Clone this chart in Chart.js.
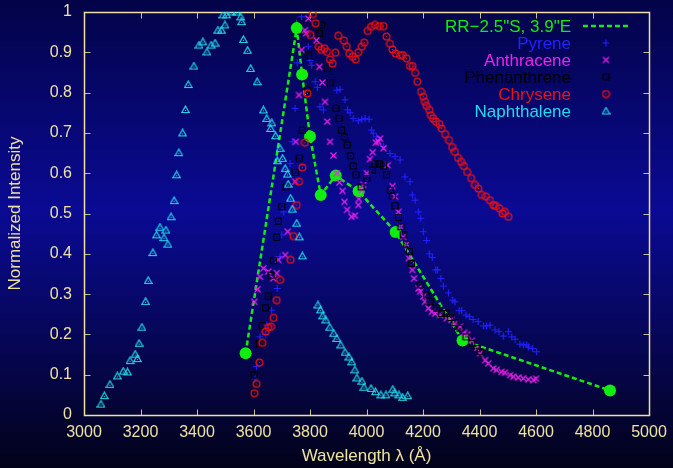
<!DOCTYPE html>
<html>
<head>
<meta charset="utf-8">
<script src="https://cdn.jsdelivr.net/npm/chart.js@4.4.1/dist/chart.umd.min.js"></script>
<style>
  html, body { margin: 0; padding: 0; background: #02022a; }
  canvas { display: block; }
</style>
</head>
<body>
<canvas id="spectra" width="673" height="468"></canvas>
<script>
// Normalized fluorescence spectra: [wavelength (Å), normalized intensity]
const observed = [
  [3572, 0.153], [3753, 0.960], [3772, 0.845], [3800, 0.691], [3838, 0.546],
  [3891, 0.594], [3972, 0.555], [4103, 0.454], [4340, 0.185], [4862, 0.061]
];

const pyrene = [
  [3605, 0.090], [3611, 0.120], [3623, 0.194], [3643, 0.199], [3647, 0.223],
  [3664, 0.260], [3684, 0.314], [3694, 0.393], [3700, 0.447], [3706, 0.504],
  [3729, 0.624], [3737, 0.678], [3747, 0.761], [3755, 0.874], [3770, 0.988],
  [3794, 0.914], [3800, 0.880], [3806, 0.868], [3818, 0.827], [3826, 0.813],
  [3835, 0.765], [3847, 0.757], [3895, 0.806], [3906, 0.808], [3924, 0.782],
  [3933, 0.757], [3942, 0.750], [3953, 0.736], [3971, 0.730], [3983, 0.733],
  [3995, 0.736], [4009, 0.734], [4018, 0.707], [4024, 0.699], [4036, 0.690],
  [4060, 0.666], [4083, 0.649], [4101, 0.641], [4119, 0.633], [4136, 0.591],
  [4154, 0.579], [4162, 0.546], [4172, 0.533], [4184, 0.504], [4192, 0.488],
  [4201, 0.455], [4213, 0.433], [4222, 0.400], [4233, 0.391], [4245, 0.360],
  [4251, 0.360], [4263, 0.339], [4272, 0.320], [4290, 0.303], [4305, 0.285],
  [4313, 0.281], [4328, 0.259], [4337, 0.259], [4352, 0.248], [4364, 0.244],
  [4377, 0.237], [4395, 0.232], [4414, 0.221], [4425, 0.221], [4437, 0.223],
  [4455, 0.211], [4469, 0.207], [4484, 0.196], [4502, 0.207], [4514, 0.194],
  [4526, 0.188], [4543, 0.176], [4555, 0.174], [4567, 0.174], [4573, 0.169],
  [4588, 0.165], [4602, 0.157]
];

const anthracene = [
  [3603, 0.281], [3614, 0.312], [3623, 0.343], [3635, 0.364], [3652, 0.356],
  [3670, 0.339], [3682, 0.352], [3688, 0.385], [3712, 0.397], [3721, 0.455],
  [3747, 0.579], [3750, 0.678], [3761, 0.794], [3770, 0.906], [3782, 0.955],
  [3786, 0.947], [3794, 0.984], [3823, 0.930], [3833, 0.864], [3844, 0.825],
  [3853, 0.777], [3861, 0.728], [3871, 0.678], [3883, 0.644], [3895, 0.600],
  [3904, 0.577], [3915, 0.556], [3922, 0.529], [3931, 0.509], [3947, 0.492],
  [3959, 0.495], [3971, 0.521], [3973, 0.536], [3983, 0.558], [3989, 0.571],
  [4001, 0.600], [4012, 0.635], [4022, 0.652], [4033, 0.676], [4042, 0.678],
  [4048, 0.686], [4060, 0.662], [4075, 0.620], [4092, 0.568], [4101, 0.542],
  [4113, 0.504], [4121, 0.467], [4130, 0.442], [4142, 0.424], [4150, 0.389],
  [4162, 0.360], [4168, 0.339], [4184, 0.314], [4190, 0.306], [4201, 0.294],
  [4207, 0.281], [4219, 0.265], [4231, 0.256], [4243, 0.252], [4260, 0.248],
  [4284, 0.240], [4301, 0.236], [4313, 0.227], [4331, 0.219], [4345, 0.204],
  [4357, 0.199], [4373, 0.184], [4390, 0.165], [4402, 0.153], [4420, 0.136],
  [4431, 0.128], [4449, 0.116], [4460, 0.112], [4478, 0.107], [4490, 0.105],
  [4508, 0.099], [4520, 0.095], [4537, 0.093], [4555, 0.091], [4573, 0.088],
  [4591, 0.087], [4600, 0.090]
];

const phenanthrene = [
  [3603, 0.099], [3621, 0.178], [3631, 0.222], [3643, 0.266], [3652, 0.295],
  [3662, 0.347], [3671, 0.383], [3682, 0.441], [3688, 0.481], [3700, 0.517],
  [3715, 0.566], [3748, 0.602], [3762, 0.637], [3773, 0.707], [3791, 0.806],
  [3795, 0.893], [3833, 0.947], [3841, 0.968], [3861, 0.860], [3871, 0.825],
  [3892, 0.761], [3903, 0.736], [3912, 0.707], [3922, 0.690], [3932, 0.670],
  [3943, 0.643], [3953, 0.618], [3963, 0.596], [3981, 0.566], [4001, 0.587],
  [4021, 0.608], [4030, 0.623], [4045, 0.623], [4060, 0.618], [4071, 0.596],
  [4085, 0.558], [4092, 0.543], [4101, 0.519], [4113, 0.490], [4122, 0.467],
  [4130, 0.447], [4142, 0.424], [4152, 0.405], [4159, 0.376], [4190, 0.323],
  [4213, 0.298], [4225, 0.281], [4249, 0.265], [4266, 0.252], [4282, 0.252],
  [4298, 0.242], [4313, 0.229], [4331, 0.215], [4352, 0.194], [4373, 0.178],
  [4390, 0.165], [4402, 0.157]
];

const chrysene = [
  [3603, 0.054], [3611, 0.077], [3621, 0.130], [3631, 0.179], [3643, 0.207],
  [3652, 0.218], [3662, 0.219], [3671, 0.241], [3682, 0.285], [3694, 0.335],
  [3731, 0.385], [3741, 0.444], [3753, 0.521], [3761, 0.579], [3773, 0.614],
  [3782, 0.676], [3791, 0.798], [3801, 0.943], [3810, 0.995], [3820, 0.972],
  [3831, 0.914], [3840, 0.906], [3851, 0.910], [3860, 0.901], [3871, 0.882],
  [3880, 0.872], [3890, 0.899], [3900, 0.941], [3920, 0.929], [3930, 0.914],
  [3939, 0.897], [3951, 0.889], [3962, 0.882], [3971, 0.900], [3983, 0.914],
  [3992, 0.924], [4004, 0.953], [4016, 0.963], [4030, 0.968], [4045, 0.965],
  [4060, 0.965], [4071, 0.939], [4083, 0.921], [4092, 0.907], [4103, 0.897],
  [4119, 0.893], [4128, 0.893], [4142, 0.885], [4154, 0.866], [4163, 0.866],
  [4172, 0.849], [4180, 0.827], [4193, 0.802], [4201, 0.790], [4207, 0.777],
  [4213, 0.767], [4222, 0.757], [4228, 0.744], [4236, 0.736], [4246, 0.728],
  [4258, 0.722], [4266, 0.711], [4278, 0.697], [4292, 0.682], [4303, 0.665],
  [4313, 0.653], [4324, 0.638], [4335, 0.628], [4345, 0.618], [4356, 0.603],
  [4370, 0.588], [4384, 0.571], [4396, 0.562], [4408, 0.546], [4423, 0.542],
  [4437, 0.533], [4449, 0.521], [4458, 0.519], [4470, 0.513], [4482, 0.500],
  [4490, 0.504], [4502, 0.492]
];

const naphthalene = [
  [3060, 0.027], [3072, 0.048], [3092, 0.076], [3118, 0.097], [3139, 0.109],
  [3154, 0.107], [3163, 0.135], [3181, 0.151], [3189, 0.140], [3195, 0.178],
  [3205, 0.218], [3218, 0.282], [3227, 0.334], [3244, 0.403], [3257, 0.447],
  [3269, 0.466], [3283, 0.440], [3290, 0.459], [3297, 0.424], [3308, 0.492],
  [3319, 0.532], [3328, 0.596], [3336, 0.651], [3349, 0.700], [3359, 0.758],
  [3369, 0.820], [3389, 0.866], [3407, 0.918], [3421, 0.926], [3435, 0.901],
  [3450, 0.918], [3464, 0.923], [3474, 0.955], [3487, 0.955], [3492, 0.993],
  [3499, 0.968], [3505, 0.993], [3523, 1.000], [3540, 1.000], [3555, 0.988],
  [3558, 0.976], [3564, 0.932], [3579, 0.905], [3590, 0.860], [3613, 0.827],
  [3635, 0.757], [3647, 0.736], [3661, 0.711], [3665, 0.725], [3678, 0.693],
  [3684, 0.631], [3694, 0.662], [3703, 0.637], [3712, 0.612], [3720, 0.598],
  [3723, 0.573], [3731, 0.538], [3737, 0.511], [3753, 0.476], [3762, 0.442],
  [3773, 0.395], [3828, 0.273], [3837, 0.261], [3845, 0.246], [3856, 0.236],
  [3870, 0.218], [3884, 0.203], [3895, 0.190], [3909, 0.174], [3924, 0.156],
  [3938, 0.144], [3948, 0.132], [3959, 0.112], [3966, 0.092], [3984, 0.084],
  [3991, 0.069], [4016, 0.066], [4032, 0.058], [4051, 0.050], [4069, 0.050],
  [4093, 0.064], [4100, 0.055], [4115, 0.050], [4128, 0.044], [4146, 0.048]
];

const wavelengthTicks = [3000, 3200, 3400, 3600, 3800, 4000, 4200, 4400, 4600, 4800, 5000];
const intensityTicks = [0, 0.1, 0.2, 0.3, 0.4, 0.5, 0.6, 0.7, 0.8, 0.9, 1];

const AXIS_COLOR = '#eee2a0';
const FONT = '"Liberation Sans", Arial, sans-serif';

// Small point glyphs in gnuplot style (most carry a centre dot)
function makeMarker(kind, color) {
  const size = 9, m = size / 2;
  const c = document.createElement('canvas');
  c.width = size; c.height = size;
  const g = c.getContext('2d');
  g.strokeStyle = color; g.fillStyle = color; g.lineWidth = 1.2;
  g.beginPath();
  if (kind === 'plus') {
    g.moveTo(1, m); g.lineTo(8, m);
    g.moveTo(m, 1); g.lineTo(m, 8);
    g.stroke();
  } else if (kind === 'cross') {
    g.moveTo(1.5, 1.5); g.lineTo(7.5, 7.5);
    g.moveTo(7.5, 1.5); g.lineTo(1.5, 7.5);
    g.stroke();
  } else if (kind === 'box') {
    g.rect(1.5, 1.5, 6, 6);
    g.stroke();
    g.fillRect(4, 4, 1, 1);
  } else if (kind === 'ring') {
    g.arc(m, m, 3.4, 0, Math.PI * 2);
    g.stroke();
    g.fillRect(4, 4, 1, 1);
  } else if (kind === 'tri') {
    g.moveTo(m, 1); g.lineTo(8.2, 7.5); g.lineTo(0.8, 7.5); g.closePath();
    g.stroke();
    g.fillRect(4, 5, 1, 1);
  }
  return c;
}

const series = [
  { label: 'RR\u22122.5"S, 3.9"E', data: observed, color: '#10ee10', marker: null },
  { label: 'Pyrene', data: pyrene, color: '#2222ff', marker: 'plus' },
  { label: 'Anthracene', data: anthracene, color: '#ee22ee', marker: 'cross' },
  { label: 'Phenanthrene', data: phenanthrene, color: '#000000', marker: 'box' },
  { label: 'Chrysene', data: chrysene, color: '#ee1111', marker: 'ring' },
  { label: 'Naphthalene', data: naphthalene, color: '#22dcec', marker: 'tri' }
];

const datasets = series.map((s, i) => {
  if (!s.marker) {
    return {
      label: s.label, data: s.data, showLine: true,
      borderColor: s.color, backgroundColor: s.color,
      borderWidth: 2.5, borderDash: [5, 3],
      pointRadius: 6, pointStyle: 'circle', pointBorderWidth: 0,
      order: series.length - i
    };
  }
  const img = makeMarker(s.marker, s.color);
  s.img = img;
  return {
    label: s.label, data: s.data, showLine: false,
    borderColor: s.color, backgroundColor: s.color,
    pointStyle: img, pointRadius: 4,
    order: series.length - i
  };
});

const backdrop = {
  id: 'backdrop',
  beforeDraw(chart) {
    const { ctx, width, height } = chart;
    const g = ctx.createLinearGradient(0, 0, 0, height);
    g.addColorStop(0, '#030348');
    g.addColorStop(0.45, '#0a0a94');
    g.addColorStop(1, '#02021a');
    ctx.save();
    ctx.fillStyle = g;
    ctx.fillRect(0, 0, width, height);
    ctx.restore();
  }
};

// Closed border with inward tick marks on all four sides
const frame = {
  id: 'frame',
  beforeDatasetsDraw(chart) {
    const { ctx, chartArea: a, scales: { x, y } } = chart;
    const L = Math.round(a.left) + 0.5, R = Math.round(a.right) + 0.5;
    const T = Math.round(a.top) + 0.5, B = Math.round(a.bottom) + 0.5;
    ctx.save();
    ctx.strokeStyle = '#c8bf94';
    ctx.lineWidth = 1;
    ctx.beginPath();
    wavelengthTicks.forEach(v => {
      const px = Math.round(x.getPixelForValue(v)) + 0.5;
      ctx.moveTo(px, B); ctx.lineTo(px, B - 6);
      ctx.moveTo(px, T); ctx.lineTo(px, T + 6);
    });
    intensityTicks.forEach(v => {
      const py = Math.round(y.getPixelForValue(v)) + 0.5;
      ctx.moveTo(L, py); ctx.lineTo(L + 6, py);
      ctx.moveTo(R, py); ctx.lineTo(R - 6, py);
    });
    ctx.stroke();
    ctx.strokeStyle = AXIS_COLOR;
    ctx.lineWidth = 1.5;
    ctx.strokeRect(L, T, R - L, B - T);
    ctx.restore();
  }
};

// Key in the upper right: right-aligned names followed by their sample
const key = {
  id: 'key',
  afterDatasetsDraw(chart) {
    const { ctx } = chart;
    const textRight = 571, sampleX = 606, top = 26, step = 17;
    ctx.save();
    ctx.font = '17px ' + FONT;
    ctx.textAlign = 'right';
    ctx.textBaseline = 'middle';
    series.forEach((s, i) => {
      const yy = top + i * step;
      ctx.fillStyle = s.color;
      ctx.fillText(s.label, textRight, yy + 1);
      if (!s.marker) {
        ctx.strokeStyle = s.color;
        ctx.lineWidth = 2.5;
        ctx.setLineDash([5, 3]);
        ctx.beginPath();
        ctx.moveTo(583, yy); ctx.lineTo(629, yy);
        ctx.stroke();
        ctx.setLineDash([]);
      } else {
        ctx.drawImage(s.img, sampleX - 4.5, yy - 4.5);
      }
    });
    ctx.restore();
  }
};

new Chart(document.getElementById('spectra'), {
  type: 'scatter',
  data: { datasets },
  plugins: [backdrop, frame, key],
  options: {
    responsive: false,
    animation: false,
    devicePixelRatio: 1,
    layout: { padding: { top: 12, right: 24, bottom: 0, left: 0 } },
    plugins: { legend: { display: false }, tooltip: { enabled: false } },
    scales: {
      x: {
        type: 'linear', min: 3000, max: 5000,
        afterBuildTicks: s => { s.ticks = wavelengthTicks.map(v => ({ value: v })); },
        afterFit: s => { s.height = 53; s.paddingLeft = 0; s.paddingRight = 0; },
        grid: { display: false, drawTicks: false },
        border: { display: false },
        ticks: { color: AXIS_COLOR, font: { family: FONT, size: 16 }, padding: 8,
                 maxRotation: 0, autoSkip: false, callback: v => String(v) },
        title: { display: true, text: 'Wavelength \u03bb (\u00c5)', color: AXIS_COLOR,
                 font: { family: FONT, size: 17 }, padding: { top: 0, bottom: 1 } }
      },
      y: {
        type: 'linear', min: 0, max: 1,
        afterBuildTicks: s => { s.ticks = intensityTicks.map(v => ({ value: v })); },
        afterFit: s => { s.width = 84; s.paddingTop = 0; s.paddingBottom = 0; },
        grid: { display: false, drawTicks: false },
        border: { display: false },
        ticks: { color: AXIS_COLOR, font: { family: FONT, size: 16 }, padding: 12,
                 autoSkip: false, callback: v => String(v) },
        title: { display: true, text: 'Normalized Intensity', color: AXIS_COLOR,
                 font: { family: FONT, size: 17 }, padding: { top: 5, bottom: 0 } }
      }
    }
  }
});
</script>
</body>
</html>
